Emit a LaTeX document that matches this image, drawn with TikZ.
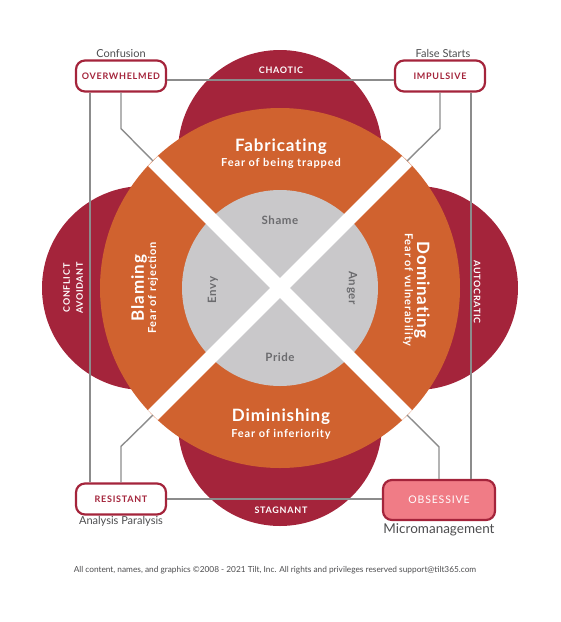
\documentclass[tikz,border=0pt]{standalone}
\usepackage{fontspec}
\setmainfont{Lato}
\newfontfamily\spacedfont[LetterSpace=8]{Lato}
\newfontfamily\widefont[LetterSpace=5, Ligatures={NoCommon}]{Lato}
\usetikzlibrary{positioning, calc}

\definecolor{wine}{HTML}{A4243B}
\definecolor{rust}{HTML}{D0622F}
\definecolor{ash}{HTML}{C9C8CA}
\definecolor{slate}{HTML}{6B6B6E}
\definecolor{wire}{HTML}{8C8C8C}
\definecolor{ink}{HTML}{4D4D4F}
\definecolor{blush}{HTML}{F07C86}

\begin{document}
\begin{tikzpicture}[x=1pt, y=-1pt,
    lobetext/.style={text=white, font=\spacedfont\bfseries\fontsize{9}{13}\selectfont, align=center, inner sep=0pt},
    petaltitle/.style={text=white, font=\widefont\bfseries\fontsize{17}{18}\selectfont, inner sep=0pt},
    petalsub/.style={text=white, font=\spacedfont\bfseries\fontsize{11}{12}\selectfont, inner sep=0pt},
    emotion/.style={text=slate, font=\widefont\bfseries\fontsize{11.5}{12}\selectfont, inner sep=0pt},
    tag/.style={rectangle, rounded corners=9pt, draw=wine, line width=2.2pt, fill=white, minimum width=90pt, minimum height=31pt, inner sep=0pt, text=wine, font=\spacedfont\bfseries\fontsize{9}{10}\selectfont},
    hint/.style={text=ink, font=\fontsize{11}{12}\selectfont, inner sep=1pt},
    link/.style={draw=wire, line width=1.4pt},
    band/.style={draw=white, line width=14pt},
  ]
    \useasboundingbox (0,0) rectangle (561,622);

    % centre and the ends of the cross
    \coordinate (hub) at (280,288);
    \coordinate (tl) at ($(hub)+(-127,-127)$);
    \coordinate (tr) at ($(hub)+(127,-127)$);
    \coordinate (bl) at ($(hub)+(-127,127)$);
    \coordinate (br) at ($(hub)+(127,127)$);

    % outer lobes
    \fill[wine] (280,152) circle (102);
    \fill[wine] (280,424) circle (102);
    \fill[wine] (144,288) circle (102);
    \fill[wine] (416,288) circle (102);

    % petals and core
    \fill[rust] (hub) circle (180);
    \fill[ash] (hub) circle (98);
    \draw[band] (tl) -- (br);
    \draw[band] (tr) -- (bl);

    % lobe labels
    \node[lobetext] (chaotic) at (281,70) {CHAOTIC};
    \node[lobetext] (stagnant) at (281,510) {STAGNANT};
    \node[lobetext, rotate=90] (avoidant) at (73,288) {CONFLICT\\AVOIDANT};
    \node[lobetext, rotate=-90] (autocratic) at (477,292) {AUTOCRATIC};

    % petal labels
    \node[petaltitle] (fabricating) at (281,147) {Fabricating};
    \node[petalsub] (trapped) at (281,163) {Fear of being trapped};
    \node[petaltitle] (diminishing) at (281,417) {Diminishing};
    \node[petalsub] (inferiority) at (281,434) {Fear of inferiority};
    \node[petaltitle, rotate=90] (blaming) at (139,288) {Blaming};
    \node[petalsub, rotate=90] (rejection) at (153,288) {Fear of rejection};
    \node[petaltitle, rotate=-90] (dominating) at (422,290) {Dominating};
    \node[petalsub, rotate=-90] (vulnerability) at (408,290) {Fear of vulnerability};

    % core labels
    \node[emotion] (shame) at (280,220) {Shame};
    \node[emotion] (pride) at (280,357) {Pride};
    \node[emotion, rotate=90] (envy) at (213,290) {Envy};
    \node[emotion, rotate=-90] (anger) at (352,288) {Anger};

    % corner tags
    \node[tag] (overwhelmed) at (121,76) {OVERWHELMED};
    \node[tag] (impulsive) at (440,76) {IMPULSIVE};
    \node[tag] (resistant) at (121,499) {RESISTANT};
    \node[tag, minimum width=112pt, minimum height=40pt, fill=blush, text=white,
          font=\spacedfont\fontsize{10.5}{12}\selectfont] (obsessive) at (439,500) {OBSESSIVE};

    \node[hint, above=1pt of overwhelmed] (confusion) {Confusion};
    \node[hint, above=1pt of impulsive, xshift=3pt] (falsestarts) {False Starts};
    \node[hint, below=0pt of resistant] (paralysis) {Analysis Paralysis};
    \node[hint, below=1pt of obsessive, font=\fontsize{13.5}{15}\selectfont] (micromgmt) {Micromanagement};

    % frame lines
    \draw[link] ([yshift=-4pt]overwhelmed.east) -- ([yshift=-4pt]impulsive.west);
    \draw[link] (resistant.east) -- (resistant.east -| obsessive.west);
    \draw[link] ([xshift=15pt]overwhelmed.south west) -- ([xshift=15pt]resistant.north west);
    \draw[link] ([xshift=-15pt]impulsive.south east) -- ([xshift=-15pt]impulsive.south east |- obsessive.north);

    % leaders into the cross
    \draw[link] (overwhelmed.south) -- ++(0,36) -- (tl);
    \draw[link] (impulsive.south) -- ++(0,36) -- (tr);
    \draw[link] (resistant.north) -- ++(0,-36) -- (bl);
    \draw[link] (obsessive.north) -- ++(0,-32) -- (br);

    \node[text=ink, font=\fontsize{8.3}{10}\selectfont] (credits) at (275,570)
      {All content, names, and graphics ©2008 - 2021 Tilt, Inc. All rights and privileges reserved support@tilt365.com};
\end{tikzpicture}
\end{document}
